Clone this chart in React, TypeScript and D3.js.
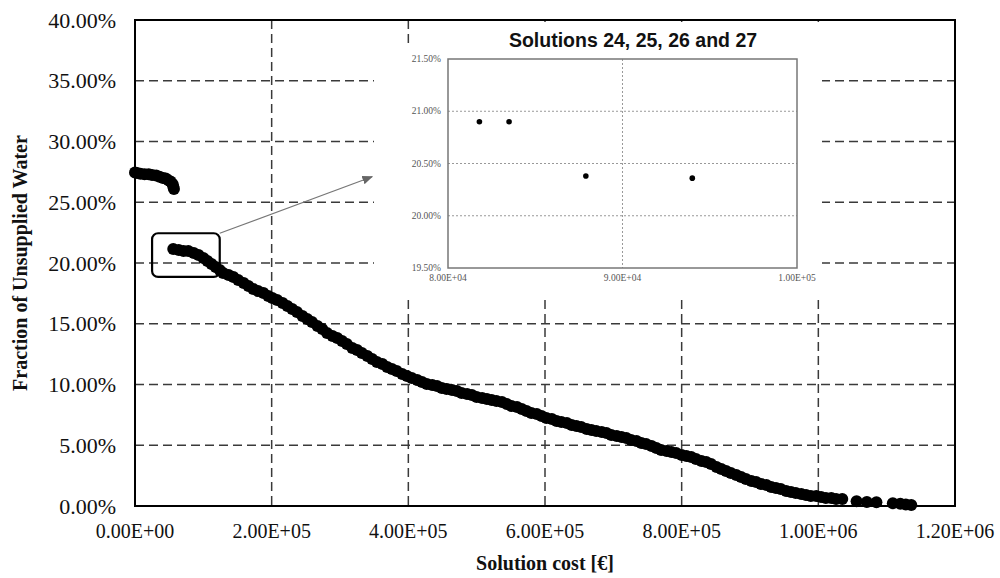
import React from 'react';
import * as d3 from 'd3';

// ---- Data (cost in k€, fraction in %) ----
const clusterCost = [0, 3, 8, 14, 20, 25, 31, 36, 41, 45, 49, 52, 55, 56, 57];
const clusterFrac = [27.45, 27.4, 27.35, 27.3, 27.3, 27.25, 27.2, 27.1, 27.0, 26.95, 26.8, 26.7, 26.5, 26.3, 26.1];

const mainCost = [
  56, 64, 71, 78, 86, 93, 100, 106, 112, 118,
  124, 129, 137, 144, 151, 159, 166, 173, 180, 188,
  195, 201, 208, 216, 223, 230, 237, 245, 252, 259,
  267, 274, 281, 289, 296, 303, 310, 318, 325, 332,
  340, 347, 354, 362, 369, 376, 383, 391, 398, 405,
  413, 420, 427, 435, 442, 449, 456, 464, 471, 478,
  486, 493, 500, 508, 515, 522, 529, 537, 544, 551,
  559, 566, 573, 580, 588, 595, 602, 610, 617, 624,
  632, 639, 646, 653, 661, 668, 675, 683, 690, 697,
  705, 712, 719, 726, 734, 741, 748, 756, 763, 770,
  778, 785, 792, 800, 807, 814, 821, 829, 836, 843,
  851, 858, 865, 872, 880, 887, 894, 902, 909, 916,
  924, 931, 938, 945, 953, 960, 967, 975, 982, 989,
  997, 1004, 1011, 1019, 1026, 1035,
  1056, 1071, 1085, 1109, 1120, 1128, 1136,
];
const mainFrac = [
  21.15, 21.07, 20.99, 20.99, 20.82, 20.66, 20.41, 20.16, 19.92, 19.67,
  19.42, 19.18, 19.01, 18.85, 18.6, 18.35, 18.11, 17.86, 17.69, 17.53,
  17.28, 17.12, 16.95, 16.71, 16.46, 16.21, 15.97, 15.64, 15.39, 15.14,
  14.81, 14.57, 14.24, 13.99, 13.83, 13.58, 13.33, 13.0, 12.84, 12.59,
  12.35, 12.1, 11.85, 11.69, 11.44, 11.28, 11.11, 10.86, 10.7, 10.53,
  10.37, 10.21, 10.04, 9.96, 9.88, 9.71, 9.63, 9.55, 9.46, 9.3,
  9.22, 9.14, 8.97, 8.89, 8.81, 8.72, 8.64, 8.56, 8.39, 8.23,
  8.15, 7.98, 7.82, 7.65, 7.57, 7.41, 7.24, 7.16, 7.0, 6.91,
  6.83, 6.67, 6.58, 6.5, 6.34, 6.25, 6.17, 6.09, 6.01, 5.84,
  5.76, 5.68, 5.6, 5.43, 5.35, 5.18, 5.1, 4.94, 4.77, 4.61,
  4.53, 4.44, 4.36, 4.2, 4.12, 4.03, 3.87, 3.7, 3.62, 3.46,
  3.21, 3.05, 2.88, 2.72, 2.55, 2.39, 2.22, 2.06, 1.98, 1.81,
  1.73, 1.56, 1.48, 1.4, 1.23, 1.15, 1.07, 0.99, 0.91, 0.82,
  0.82, 0.74, 0.66, 0.66, 0.58, 0.58,
  0.4, 0.33, 0.3, 0.22, 0.18, 0.12, 0.08,
];

// Inset: solutions 24..27 (cost in €, fraction in %)
const insetCost = [81800, 83500, 87900, 94000];
const insetFrac = [20.9, 20.9, 20.38, 20.36];

const yTicks = [0, 5, 10, 15, 20, 25, 30, 35, 40];
const xTicks = [0, 200, 400, 600, 800, 1000, 1200];
const xTickLabels = ['0.00E+00', '2.00E+05', '4.00E+05', '6.00E+05', '8.00E+05', '1.00E+06', '1.20E+06'];
const insetYTicks = [19.5, 20, 20.5, 21, 21.5];
const insetXTicks = [80000, 90000, 100000];
const insetXTickLabels = ['8.00E+04', '9.00E+04', '1.00E+05'];

// zoom box + arrow in data units (k€, %)
const zoomBox = { x0: 25, x1: 124, y0: 18.85, y1: 22.45 };
const arrowEnd = { x: 347, y: 27.1 };

const serif = '"Liberation Serif", "Times New Roman", serif';
const sans = '"Liberation Sans", Arial, sans-serif';

export default function App() {
  const W = 1000, H = 578;
  const left = 135, right = 955, top = 20, bottom = 506;
  const x = d3.scaleLinear().domain([0, 1200]).range([left, right]);
  const y = d3.scaleLinear().domain([0, 40]).range([bottom, top]);

  // inset layout
  const iL = 448, iR = 797, iT = 59, iB = 268;
  const ix = d3.scaleLinear().domain([80000, 100000]).range([iL, iR]);
  const iy = d3.scaleLinear().domain([19.5, 21.5]).range([iB, iT]);

  const grid = '#3a3a3a';

  const ax0 = x(zoomBox.x1), ay0 = y(zoomBox.y1);
  const ax1 = x(arrowEnd.x), ay1 = y(arrowEnd.y);

  return (
    <svg width={W} height={H} style={{ position: 'absolute', left: 0, top: 0, background: '#fff' }}>
      <defs>
        <marker id="arr" viewBox="0 0 10 10" refX="9" refY="5" markerWidth="9" markerHeight="9" orient="auto">
          <path d="M0,1 L10,5 L0,9 z" fill="#666" />
        </marker>
      </defs>
      <rect x={0} y={0} width={W} height={H} fill="#fff" />

      {/* gridlines */}
      {yTicks.filter(t => t > 0 && t < 40).map(t => (
        <line key={'gy' + t} x1={left} x2={right} y1={y(t)} y2={y(t)} stroke={grid} strokeWidth={1.5} strokeDasharray="9,5" />
      ))}
      {xTicks.filter(t => t > 0 && t < 1200).map(t => (
        <line key={'gx' + t} x1={x(t)} x2={x(t)} y1={top} y2={bottom} stroke={grid} strokeWidth={1.5} strokeDasharray="9,5" />
      ))}

      {/* data */}
      {clusterCost.map((c, i) => (
        <circle key={'c' + i} cx={x(c)} cy={y(clusterFrac[i])} r={6} fill="#000" />
      ))}
      {mainCost.map((c, i) => (
        <circle key={'m' + i} cx={x(c)} cy={y(mainFrac[i])} r={6} fill="#000" />
      ))}

      {/* frame */}
      <rect x={left} y={top} width={right - left} height={bottom - top} fill="none" stroke="#000" strokeWidth={2} />

      {/* zoom box */}
      <rect x={x(zoomBox.x0)} y={y(zoomBox.y1)} width={x(zoomBox.x1) - x(zoomBox.x0)} height={y(zoomBox.y0) - y(zoomBox.y1)}
        rx={6} fill="none" stroke="#000" strokeWidth={2.2} />
      <line x1={ax0} y1={ay0} x2={ax1} y2={ay1} stroke="#777" strokeWidth={1.2} markerEnd="url(#arr)" />

      {/* inset cover */}
      <rect x={374} y={47} width={448} height={253} fill="#fff" />
      <rect x={416} y={22} width={406} height={26} fill="#fff" />

      {/* inset */}
      <text x={633} y={47} textAnchor="middle" fontFamily={sans} fontWeight="bold" fontSize={19.5} fill="#111">
        Solutions 24, 25, 26 and 27
      </text>
      {insetYTicks.filter(t => t > 19.5 && t < 21.5).map(t => (
        <line key={'iy' + t} x1={iL} x2={iR} y1={iy(t)} y2={iy(t)} stroke="#999" strokeWidth={1} strokeDasharray="2,2" />
      ))}
      <line x1={ix(90000)} x2={ix(90000)} y1={iT} y2={iB} stroke="#999" strokeWidth={1} strokeDasharray="2,2" />
      <rect x={iL} y={iT} width={iR - iL} height={iB - iT} fill="none" stroke="#777" strokeWidth={1.5} />
      {insetYTicks.map(t => (
        <text key={'iyl' + t} x={iL - 7} y={iy(t) + 3} textAnchor="end" fontFamily={serif} fontSize={9.5} fill="#555">
          {t.toFixed(2) + '%'}
        </text>
      ))}
      {insetXTicks.map((t, i) => (
        <text key={'ixl' + t} x={ix(t)} y={iB + 13} textAnchor="middle" fontFamily={serif} fontSize={9.5} fill="#555">
          {insetXTickLabels[i]}
        </text>
      ))}
      {insetCost.map((c, i) => (
        <circle key={'i' + i} cx={ix(c)} cy={iy(insetFrac[i])} r={2.8} fill="#000" />
      ))}

      {/* axis tick labels */}
      {yTicks.map(t => (
        <text key={'yl' + t} x={116} y={y(t) + 7.5} textAnchor="end" fontFamily={serif} fontSize={22} fill="#111">
          {t.toFixed(2) + '%'}
        </text>
      ))}
      {xTicks.map((t, i) => (
        <text key={'xl' + t} x={x(t)} y={538} textAnchor="middle" fontFamily={serif} fontSize={20} fill="#111">
          {xTickLabels[i]}
        </text>
      ))}

      {/* axis titles */}
      <text x={545} y={570} textAnchor="middle" fontFamily={serif} fontWeight="bold" fontSize={20} fill="#111">
        Solution cost [€]
      </text>
      <text transform={`translate(27, ${(top + bottom) / 2}) rotate(-90)`} textAnchor="middle" fontFamily={serif}
        fontWeight="bold" fontSize={20} fill="#111">
        Fraction of Unsupplied Water
      </text>
    </svg>
  );
}
